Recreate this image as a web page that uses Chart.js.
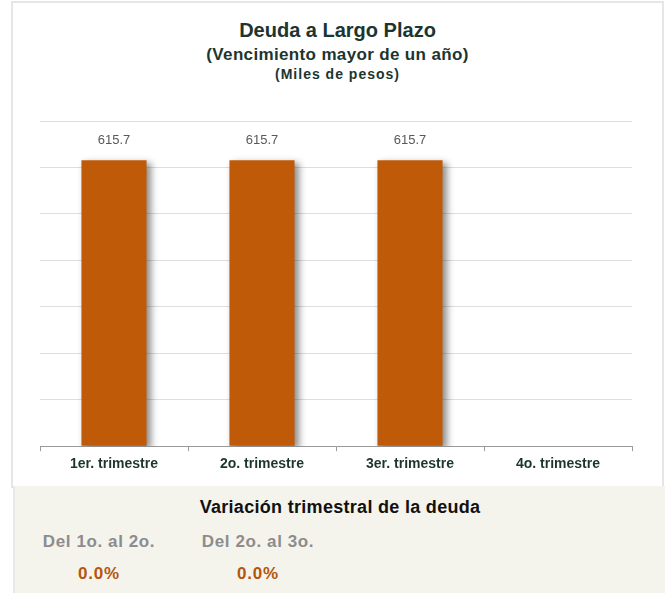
<!DOCTYPE html>
<html>
<head>
<meta charset="utf-8">
<script src="https://cdn.jsdelivr.net/npm/chart.js@4.4.1/dist/chart.umd.min.js"></script>
<style>
  body { margin: 0; background: #fff; font-family: "Liberation Sans", Arial, sans-serif; }
  #card { position: absolute; left: 11px; top: 1px; width: 649px; height: 484px;
          border: 2px solid #e6e6e6; border-bottom: 1px solid #e2e2e2; background: #fff; }
  .t { position: absolute; left: 0; width: 100%; text-align: center; font-weight: bold; color: #1c3530; }
  #t1 { top: 16px; font-size: 20px; }
  #t2 { top: 42px; font-size: 17px; letter-spacing: 0.35px; }
  #t3 { top: 63px; font-size: 14px; letter-spacing: 1px; }
  #wrap { position: absolute; left: 0px; top: 96px; width: 650px; height: 388px; }
  #panel { position: absolute; left: 13px; top: 486px; width: 650px; height: 107px; background: #f4f3ec;
           border-left: 2px solid #e8e8e8; }
  #panel h3 { margin: 0; position: absolute; top: 11px; left: 0; width: 100%; text-align: center;
              font-size: 18px; letter-spacing: 0.3px; color: #111; }
  .col { position: absolute; top: 46px; width: 160px; text-align: center; font-weight: bold; }
  .col .lbl { font-size: 17px; letter-spacing: 0.6px; color: #8c8c8c; }
  .col .val { font-size: 17px; letter-spacing: 0.8px; color: #b5560c; margin-top: 12px; }
</style>
</head>
<body>
<div id="card">
  <div class="t" id="t1">Deuda a Largo Plazo</div>
  <div class="t" id="t2">(Vencimiento mayor de un año)</div>
  <div class="t" id="t3">(Miles de pesos)</div>
  <div id="wrap"><canvas id="chart" width="650" height="388"></canvas></div>
</div>
<div id="panel">
  <h3>Variación trimestral de la deuda</h3>
</div>
<script>
const quarters = ["1er. trimestre", "2o. trimestre", "3er. trimestre", "4o. trimestre"];
const debtValues = [615.7, 615.7, 615.7, null];
const variationLabels = ["Del 1o. al 2o.", "Del 2o. al 3o."];
const variationValues = ["0.0%", "0.0%"];

// bottom panel columns
const panel = document.getElementById("panel");
const colCenters = [84, 243];
variationLabels.forEach((lbl, i) => {
  const col = document.createElement("div");
  col.className = "col";
  col.style.left = (colCenters[i] - 80) + "px";
  col.innerHTML = '<div class="lbl"></div><div class="val"></div>';
  col.querySelector(".lbl").textContent = lbl;
  col.querySelector(".val").textContent = variationValues[i];
  panel.appendChild(col);
});

const barShadow = {
  id: "barShadow",
  beforeDatasetsDraw(chart) {
    const ctx = chart.ctx;
    ctx.save();
    ctx.shadowColor = "rgba(0,0,0,0.45)";
    ctx.shadowBlur = 7;
    ctx.shadowOffsetX = 4;
    ctx.shadowOffsetY = 3;
  },
  afterDatasetsDraw(chart) {
    const ctx = chart.ctx;
    ctx.restore();
    // value labels above bars
    const meta = chart.getDatasetMeta(0);
    ctx.save();
    ctx.font = "13px 'Liberation Sans', Arial, sans-serif";
    ctx.fillStyle = "#595959";
    ctx.textAlign = "center";
    ctx.textBaseline = "middle";
    meta.data.forEach((bar, i) => {
      const v = debtValues[i];
      if (v == null) return;
      ctx.fillText(v.toFixed(1), bar.x, bar.y - 20);
    });
    ctx.restore();
  }
};

const ctx = document.getElementById("chart").getContext("2d");
new Chart(ctx, {
  type: "bar",
  data: {
    labels: quarters,
    datasets: [{
      data: debtValues,
      backgroundColor: "#bf5a09",
      borderWidth: 0,
      barPercentage: 0.44,
      categoryPercentage: 1
    }]
  },
  options: {
    responsive: false,
    animation: false,
    layout: { padding: { left: 27, right: 31, top: 22, bottom: 9 } },
    plugins: {
      legend: { display: false },
      tooltip: { enabled: false }
    },
    scales: {
      x: {
        grid: { drawOnChartArea: false, drawTicks: true, tickLength: 5, color: "#9a9a9a", offset: true },
        border: { display: true, color: "#9a9a9a", width: 1 },
        ticks: { color: "#1c3530", padding: 5, font: { family: "'Liberation Sans', Arial, sans-serif", size: 14, weight: "bold" } }
      },
      y: {
        min: 0,
        max: 700,
        ticks: { display: false, stepSize: 100 },
        grid: { color: "#dedede", drawTicks: false },
        border: { display: false }
      }
    }
  },
  plugins: [barShadow]
});
</script>
</body>
</html>
